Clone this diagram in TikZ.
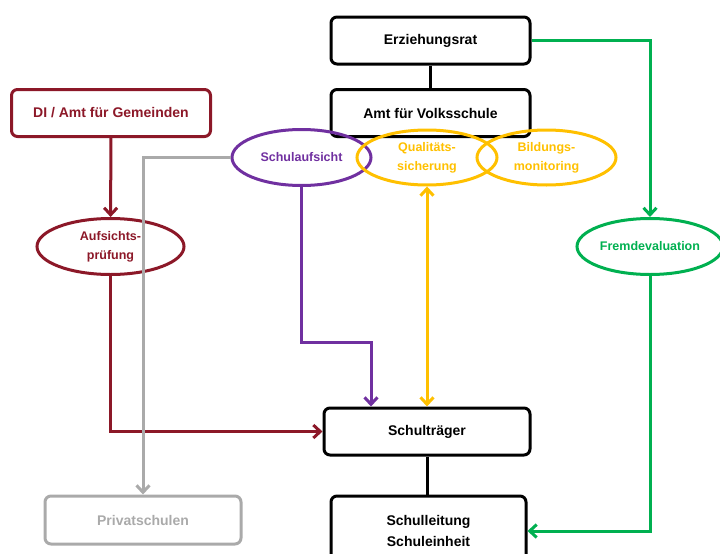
\documentclass[tikz,border=0pt]{standalone}
\usepackage{fontspec}
\setmainfont{Liberation Sans}
\usetikzlibrary{shapes.geometric,arrows.meta}
\definecolor{amtrot}{RGB}{140,24,40}
\definecolor{aufsicht}{RGB}{112,48,160}
\definecolor{quali}{RGB}{255,192,0}
\definecolor{fremd}{RGB}{0,176,80}
\definecolor{privat}{RGB}{170,170,170}

\begin{document}
\begin{tikzpicture}[x=1pt,y=-1pt,
  box/.style={draw,rounded corners=6pt,line width=3pt,minimum width=199pt,minimum height=47pt,inner sep=0pt,align=center,font=\fontsize{14}{21}\selectfont\bfseries},
  oval/.style={draw,ellipse,line width=3pt,minimum width=139pt,minimum height=56pt,inner sep=0pt,align=center,font=\fontsize{12.5}{19}\selectfont\bfseries},
  link/.style={line width=3pt},
  spitze/.tip={Straight Barb[length=7pt,width=13pt,line width=3pt]},
  pfeil/.style={line width=3pt,-spitze}]
\useasboundingbox (0,0) rectangle (720,554);

% boxes
\node[box] (rat) at (430.5,40.5) {Erziehungsrat};
\node[box] (avs) at (430.5,113) {Amt für Volksschule};
\node[box,amtrot] (di) at (111,113) {DI / Amt für Gemeinden};
\node[box,minimum width=206pt] (traeger) at (427,431.5) {Schulträger};
\node[box,minimum width=195pt,minimum height=70pt] (leitung) at (428.5,531) {Schulleitung\\Schuleinheit};
\node[box,privat,minimum width=196pt,minimum height=48pt] (privat) at (143,520) {Privatschulen};

% ellipses
\node[oval,aufsicht] (sa) at (301.5,157.5) {Schulaufsicht};
\node[oval,quali,minimum width=140pt,minimum height=55pt] (qs) at (427,157.5) {Qualitäts-\\sicherung};
\node[oval,quali,minimum width=139pt,minimum height=55pt] (bm) at (546.5,157.5) {Bildungs-\\monitoring};
\node[oval,amtrot,minimum width=147pt] (ap) at (110.5,246.5) {Aufsichts-\\prüfung};
\node[oval,fremd,minimum width=146pt] (fe) at (650,246.5) {Fremdevaluation};

% connectors
\draw[link] (rat) -- (avs);
\draw[link] (traeger) -- (leitung.north -| traeger);
\draw[pfeil,fremd] (rat.east) -| (fe.north);
\draw[pfeil,fremd] (fe.south) |- (leitung.east);
\draw[pfeil,amtrot] (di) -- (ap);
\draw[pfeil,amtrot] (ap.south) |- (traeger.west);
\draw[pfeil,privat] (sa.west) -| (privat.north);
\draw[pfeil,aufsicht] (sa.south) -- ++(0,155) -| ([xshift=-56pt]traeger.north);
\draw[link,quali,spitze-spitze] (qs.south) -- (traeger.north);
\end{tikzpicture}
\end{document}
